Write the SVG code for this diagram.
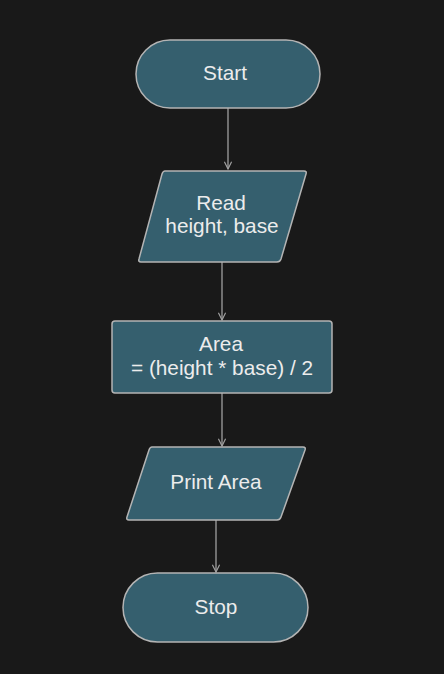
<svg xmlns="http://www.w3.org/2000/svg" width="444" height="674" viewBox="0 0 444 674">
<style>
.node{fill:#355f6e;stroke:#b4b4b4;stroke-width:1.5}
.lbl{font-family:"Liberation Sans",Arial,sans-serif;font-size:20.8px;fill:#ececec;text-anchor:middle}
.edge{stroke:#a0a0a0;stroke-width:1.3;fill:none}
</style>
<defs>
<marker id="arr" viewBox="0 0 10 10" refX="9" refY="5" markerWidth="9" markerHeight="9" markerUnits="userSpaceOnUse" orient="auto">
<path d="M1,1 L9,5 L1,9" fill="none" stroke="#a0a0a0" stroke-width="1.3"/>
</marker>
</defs>
<rect width="444" height="674" fill="#191919"/>
<g id="connectors">
<line class="edge" x1="228" y1="108" x2="228" y2="169" marker-end="url(#arr)"/>
<line class="edge" x1="222" y1="262" x2="222" y2="320" marker-end="url(#arr)"/>
<line class="edge" x1="222" y1="393" x2="222" y2="446" marker-end="url(#arr)"/>
<line class="edge" x1="216" y1="520" x2="216" y2="572" marker-end="url(#arr)"/>
</g>
<g id="start">
<rect class="node" x="136" y="40" width="184" height="68" rx="34"/>
<text class="lbl" x="225" y="80">Start</text>
</g>
<g id="read">
<path class="node" d="M165,171 L304,171 Q307,171 306,174 L281,259 Q280,262 277,262 L141,262 Q138,262 139,259 L162,174 Q163,171 165,171 Z"/>
<text class="lbl" x="221" y="210">Read</text>
<text class="lbl" x="222" y="233">height, base</text>
</g>
<g id="area">
<rect class="node" x="112" y="321" width="220" height="72" rx="3"/>
<text class="lbl" x="221" y="351">Area</text>
<text class="lbl" x="222" y="375">= (height * base) / 2</text>
</g>
<g id="print">
<path class="node" d="M152,447 L303,447 Q306,447 305,450 L281,517 Q280,520 277,520 L129,520 Q126,520 127,517 L149,450 Q150,447 152,447 Z"/>
<text class="lbl" x="216" y="489">Print Area</text>
</g>
<g id="stop">
<rect class="node" x="123" y="573" width="185" height="69" rx="34.5"/>
<text class="lbl" x="216" y="614">Stop</text>
</g>
</svg>
